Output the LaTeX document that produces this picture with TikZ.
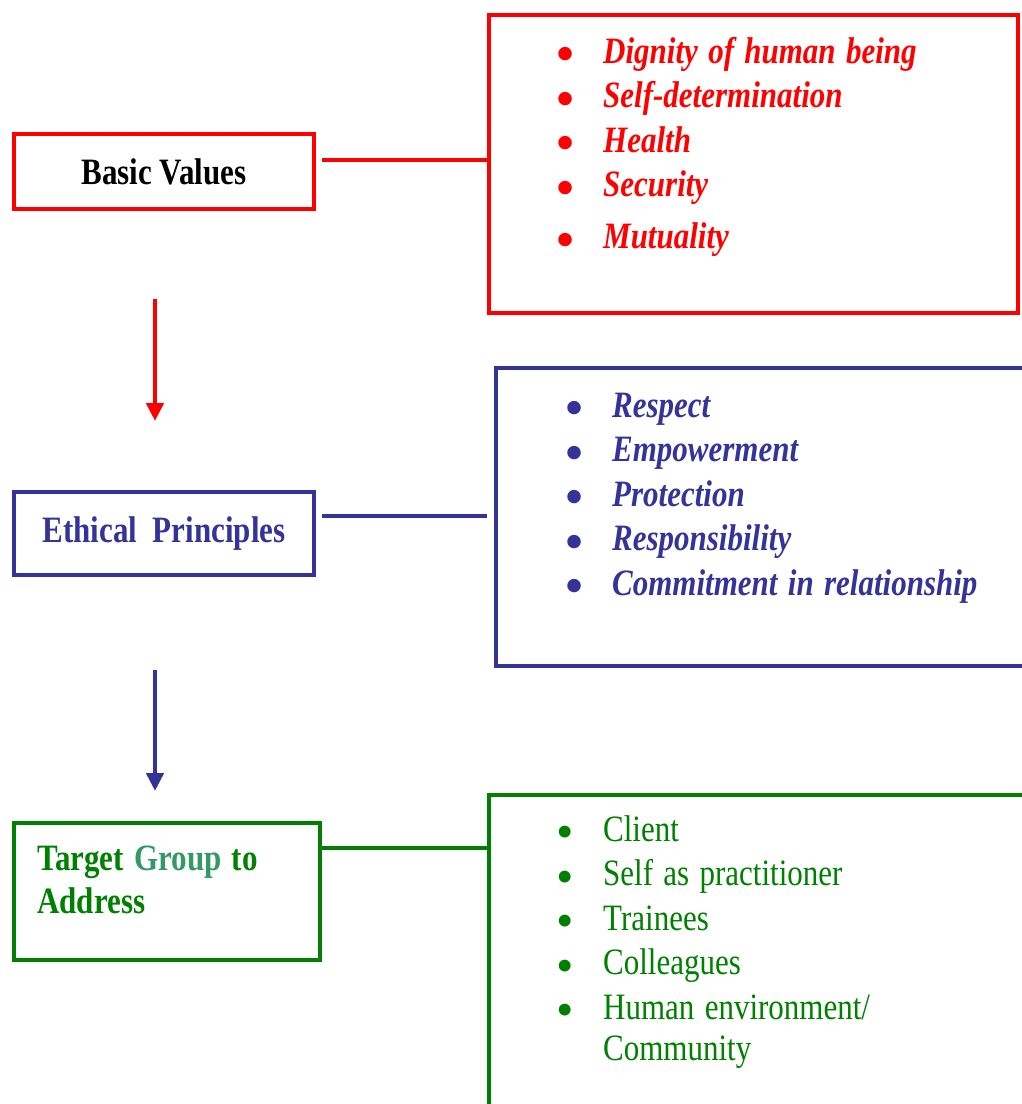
\documentclass[tikz,border=0pt]{standalone}
\usepackage{graphicx}
\usepackage{fontspec}
\setmainfont{Liberation Serif}
\usetikzlibrary{arrows.meta}

\definecolor{valred}{RGB}{255,0,0}
\definecolor{priblue}{RGB}{51,51,153}
\definecolor{grpgreen}{RGB}{0,128,0}
\definecolor{grplight}{RGB}{51,153,102}

\newcommand{\tall}[1]{\scalebox{1}[1.2]{#1}}
\newcommand{\itm}[1]{\makebox[43pt][l]{\hspace*{-4pt}\smash{\raisebox{-7.8pt}{\scalebox{1.6}{\textbullet}}}}\tall{#1}}

\begin{document}
\begin{tikzpicture}[x=1pt, y=-1pt, box/.style={rectangle, draw, line width=4pt, inner sep=0pt}, head/.style={font=\fontsize{31}{43}\selectfont\bfseries}, items/.style={anchor=base west, inner sep=0pt, text width=440pt, align=left, font=\fontsize{31}{44.5}\selectfont}, emitems/.style={items, font=\fontsize{31}{44.5}\selectfont\bfseries\itshape}, link/.style={line width=4pt}, arrow/.style={line width=4.5pt, -{Triangle[length=18pt,width=17pt]}}]
	\useasboundingbox (0,0) rectangle (1022,1104);
	\clip (0,0) rectangle (1022,1104);

	% nodes
	\node[box, head, draw=valred, minimum width=300pt, minimum height=75pt] (bv) at (164,171.5) {\tall{Basic Values}}; %
	\node[box, draw=valred, minimum width=529pt, minimum height=298pt] (vallist) at (753.5,164) {}; %
	\node[box, head, draw=priblue, text=priblue, minimum width=300pt, minimum height=83pt] (ep) at (164,533.5) {\tall{Ethical\ \ Principles}}; %
	\node[box, draw=priblue, minimum width=540pt, minimum height=298pt] (prilist) at (766,517) {}; %
	\node[box, draw=grpgreen, minimum width=306pt, minimum height=137pt] (tg) at (167,891.5) {}; %
	\node[box, draw=grpgreen, minimum width=545pt, minimum height=330pt] (grplist) at (761.5,960) {}; %

	% texts
	\node[items, head, text=grpgreen] (tgtext) at (37,870) {\tall{Target \textcolor{grplight}{Group} to}\\\tall{Address}}; %
	\node[emitems, text=valred] (valitems) at (560,63) {\itm{Dignity of human being}\\\itm{Self-determination}\\\itm{Health}\\\itm{Security}\\[7.5pt]\itm{Mutuality}}; %
	\node[emitems, text=priblue] (priitems) at (569,417) {\itm{Respect}\\\itm{Empowerment}\\\itm{Protection}\\\itm{Responsibility}\\\itm{Commitment in relationship}}; %
	\node[items, text=grpgreen] (grpitems) at (560,841) {\itm{Client}\\\itm{Self as practitioner}\\\itm{Trainees}\\\itm{Colleagues}\\\itm{Human environment/}\\[-3.5pt]\hspace*{43pt}\tall{Community}}; %

	% edges
	\draw [link, valred, shorten <=6pt] ([yshift=11.5pt]bv.east) -- ([yshift=11.5pt]bv.east -| vallist.west);
	\draw [link, priblue, shorten <=6pt, shorten >=7pt] ([yshift=17.5pt]ep.east) -- ([yshift=17.5pt]ep.east -| prilist.west);
	\draw [link, grpgreen] ([yshift=43.5pt]tg.east) -- ([yshift=43.5pt]tg.east -| grplist.west);
	\draw [arrow, valred, shorten <=88pt, shorten >=69pt] ([xshift=-9pt]bv.south) -- ([xshift=-9pt]bv.south |- ep.north);
	\draw [arrow, priblue, shorten <=93pt, shorten >=30pt] ([xshift=-9pt]ep.south) -- ([xshift=-9pt]ep.south |- tg.north);
\end{tikzpicture}
\end{document}
